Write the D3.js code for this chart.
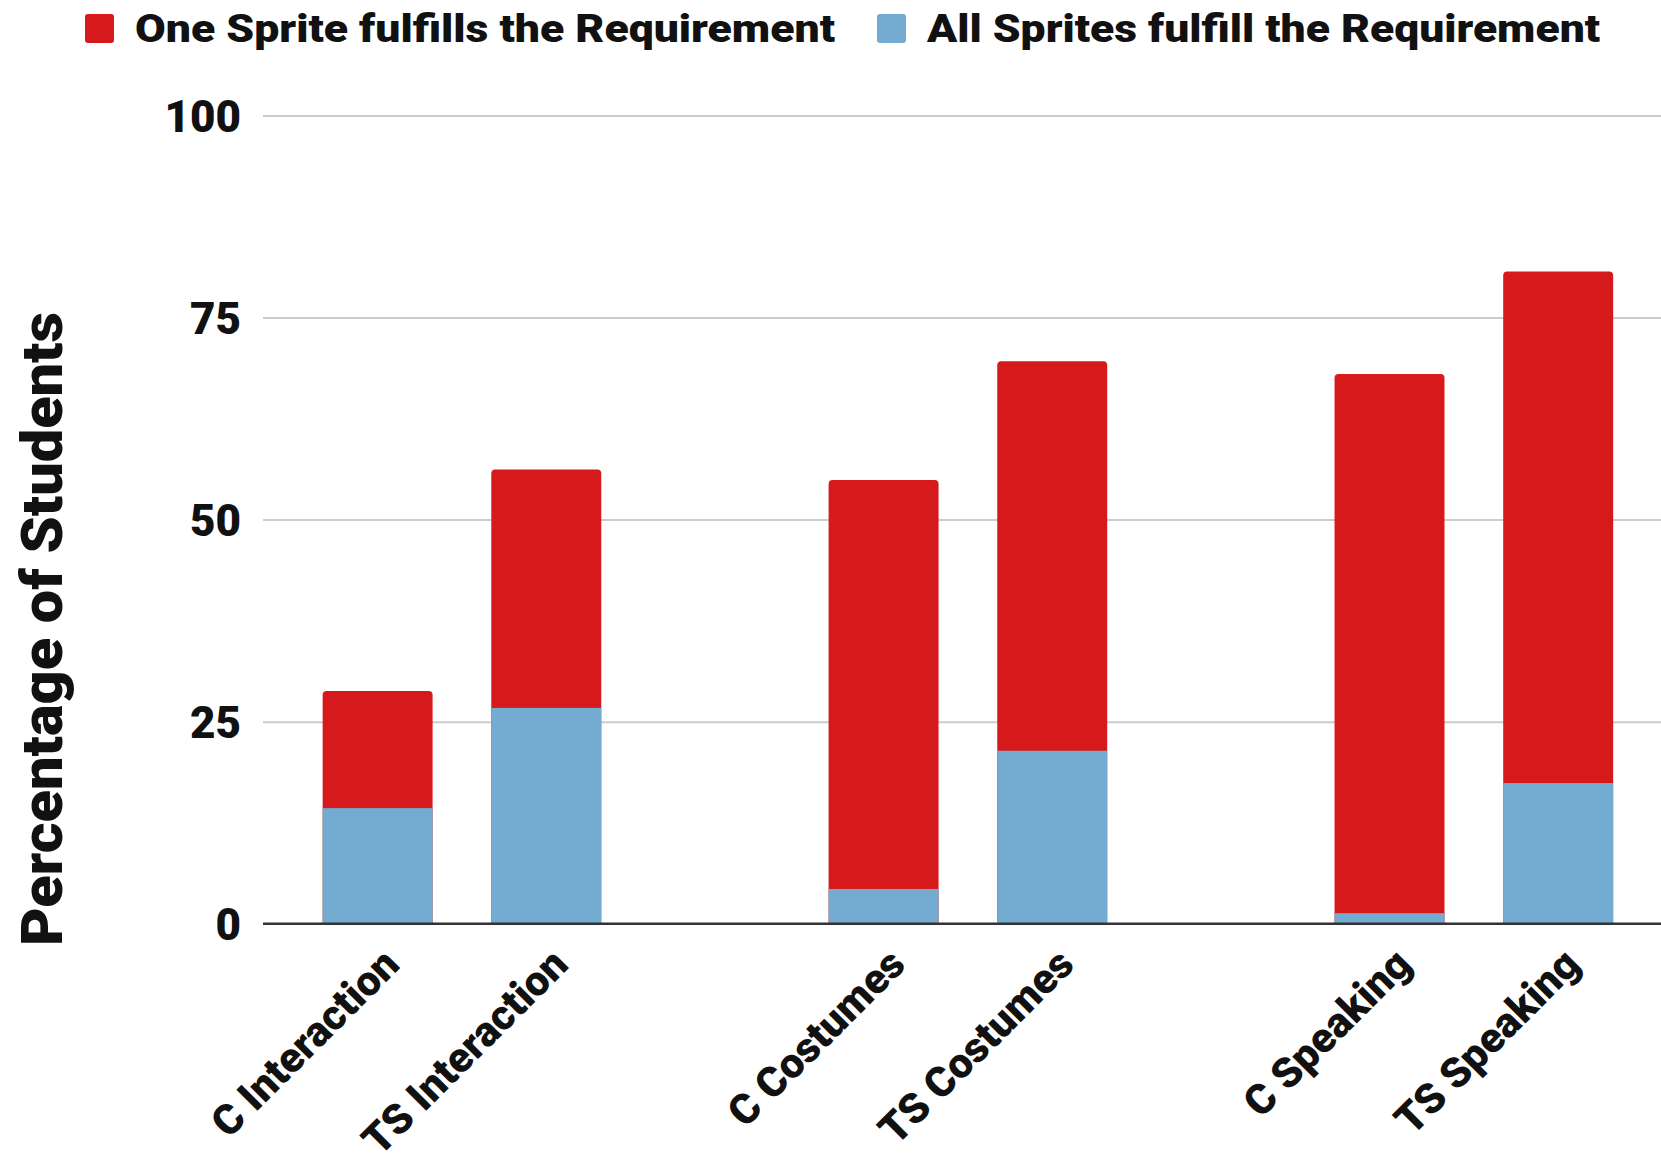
<!DOCTYPE html>
<html>
<head>
<meta charset="utf-8">
<script src="https://cdn.jsdelivr.net/npm/d3@7"></script>
<style>
  html, body { margin: 0; padding: 0; background: #ffffff; }
  svg { display: block; }
</style>
</head>
<body>
<svg id="chart" width="1661" height="1168"></svg>
<script>
// Category slots along the x axis; empty strings leave a gap between groups
const categories = ["C Interaction", "TS Interaction", "", "C Costumes", "TS Costumes", "", "C Speaking", "TS Speaking"];
// Percentage of students where at least one sprite meets the requirement
const oneSprite = [28.8, 56.2, null, 54.9, 69.6, null, 68.0, 80.7];
// Percentage of students where every sprite meets the requirement
const allSprites = [14.3, 26.7, null, 4.3, 21.4, null, 1.3, 17.4];
const yTicks = [0, 25, 50, 75, 100];
const seriesNames = ["One Sprite fulfills the Requirement", "All Sprites fulfill the Requirement"];
const seriesColors = ["#d6191b", "#74acd1"];

const svg = d3.select("#chart");
const plot = { left: 263, right: 1661, top: 115.5, bottom: 923.7 };
const FONT = "Roboto, 'Liberation Sans', Arial, sans-serif";

const x = d3.scaleBand()
  .domain(d3.range(categories.length))
  .range([293.3, 1642.5])
  .paddingInner(0.348)
  .paddingOuter(0.174);

const y = d3.scaleLinear().domain([0, 100]).range([plot.bottom, plot.top]);

// Horizontal gridlines with tick labels
const yAxis = d3.axisLeft(y)
  .tickValues(yTicks)
  .tickSize(-(plot.right - plot.left))
  .tickPadding(22)
  .tickFormat(d3.format("d"));

const gy = svg.append("g")
  .attr("transform", `translate(${plot.left},0)`)
  .call(yAxis);
gy.select(".domain").remove();
gy.selectAll(".tick line")
  .attr("stroke", d => d === 0 ? "none" : "#cccccc")
  .attr("stroke-width", 2);
gy.selectAll(".tick text")
  .attr("font-family", FONT)
  .attr("font-weight", 900)
  .attr("font-size", 44)
  .attr("fill", "#111")
  .attr("dy", "0.36em");

// Rounded-top bar path
function barPath(x0, w, yTop, yBase, r) {
  r = Math.min(r, w / 2, (yBase - yTop));
  return `M${x0},${yBase}V${yTop + r}Q${x0},${yTop} ${x0 + r},${yTop}` +
         `H${x0 + w - r}Q${x0 + w},${yTop} ${x0 + w},${yTop + r}V${yBase}Z`;
}

const idx = d3.range(categories.length).filter(i => oneSprite[i] != null);

svg.append("g").selectAll("path")
  .data(idx)
  .join("path")
  .attr("d", i => barPath(x(i), x.bandwidth(), y(oneSprite[i]), y(0), 4))
  .attr("fill", seriesColors[0]);

svg.append("g").selectAll("rect")
  .data(idx)
  .join("rect")
  .attr("x", i => x(i))
  .attr("width", x.bandwidth())
  .attr("y", i => y(allSprites[i]))
  .attr("height", i => y(0) - y(allSprites[i]))
  .attr("fill", seriesColors[1]);

// Baseline
svg.append("line")
  .attr("x1", plot.left).attr("x2", plot.right)
  .attr("y1", y(0)).attr("y2", y(0))
  .attr("stroke", "#333")
  .attr("stroke-width", 2.5);

// Rotated category labels
svg.append("g").selectAll("text")
  .data(idx)
  .join("text")
  .attr("transform", i => `translate(${x(i) + x.bandwidth() / 2 + 24},${plot.bottom + 43}) rotate(-45)`)
  .attr("text-anchor", "end")
  .attr("font-family", FONT)
  .attr("font-weight", 900)
  .attr("font-size", 42)
  .attr("fill", "#111")
  .text(i => categories[i]);

// Y axis title
svg.append("text")
  .attr("transform", `translate(62,629) rotate(-90)`)
  .attr("text-anchor", "middle")
  .attr("font-family", FONT)
  .attr("font-weight", 900)
  .attr("font-size", 58)
  .attr("textLength", 634)
  .attr("lengthAdjust", "spacingAndGlyphs")
  .attr("fill", "#111")
  .text("Percentage of Students");

// Legend
const legendItems = [
  { x: 85, textWidth: 700 },
  { x: 877, textWidth: 673 }
];
const legend = svg.append("g");
seriesNames.forEach((name, k) => {
  const g = legend.append("g").attr("transform", `translate(${legendItems[k].x},14)`);
  g.append("rect")
    .attr("width", 29).attr("height", 29).attr("rx", 3)
    .attr("fill", seriesColors[k]);
  g.append("text")
    .attr("x", 50).attr("y", 28)
    .attr("font-family", FONT)
    .attr("font-weight", 900)
    .attr("font-size", 39)
    .attr("textLength", legendItems[k].textWidth)
    .attr("lengthAdjust", "spacingAndGlyphs")
    .attr("fill", "#111")
    .text(name);
});
</script>
</body>
</html>
